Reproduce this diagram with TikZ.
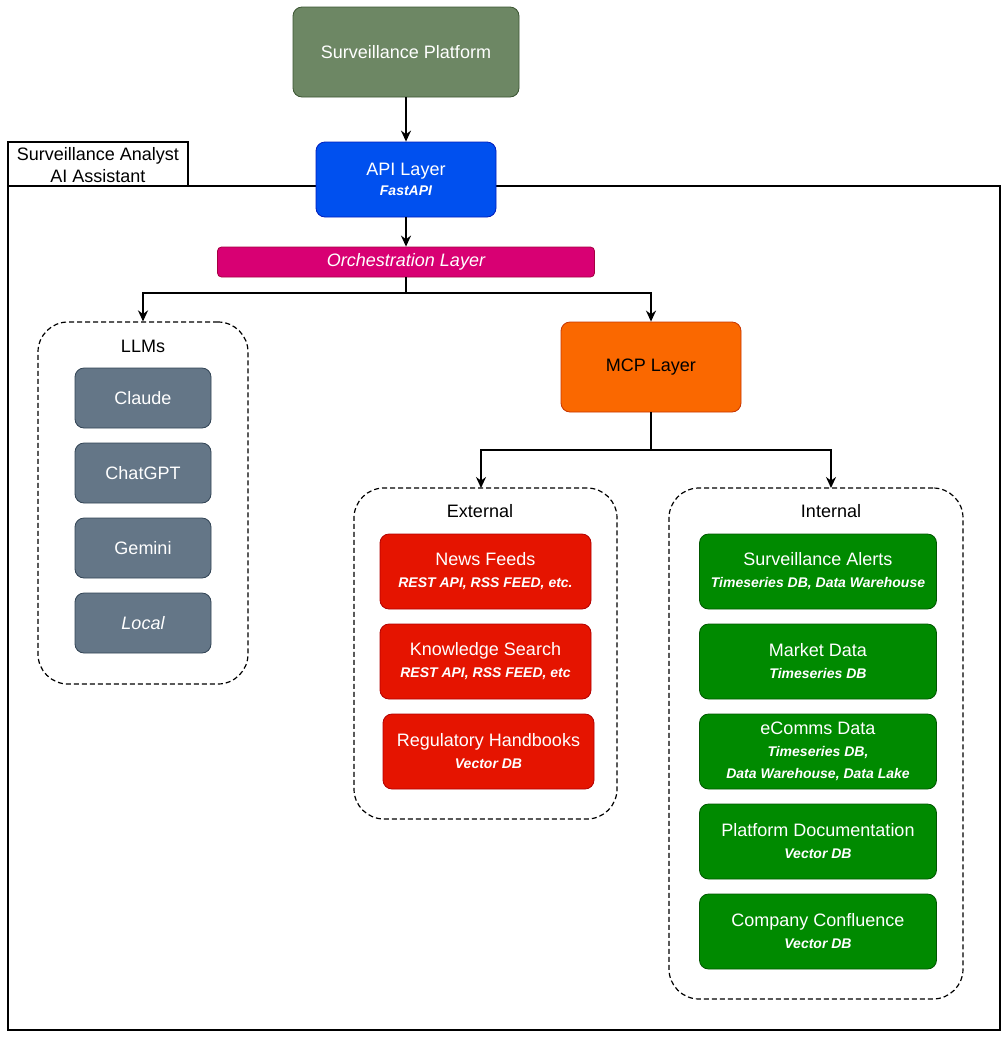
\documentclass[tikz,border=0pt]{standalone}
\usepackage{fontspec}
\setmainfont{Liberation Sans}
\usetikzlibrary{arrows.meta}
\definecolor{spfill}{HTML}{6D8764}\definecolor{spline}{HTML}{3A5431}
\definecolor{apifill}{HTML}{0050EF}\definecolor{apiline}{HTML}{001DBC}
\definecolor{orfill}{HTML}{D80073}\definecolor{orline}{HTML}{A50040}
\definecolor{mcpfill}{HTML}{FA6800}\definecolor{mcpline}{HTML}{C73500}
\definecolor{llmfill}{HTML}{647687}\definecolor{llmline}{HTML}{314354}
\definecolor{extfill}{HTML}{E51400}\definecolor{extline}{HTML}{B20000}
\definecolor{intfill}{HTML}{008A00}\definecolor{intline}{HTML}{005700}
\newcommand{\subtxt}[1]{{\fontsize{14}{22}\selectfont\bfseries\itshape #1}}
\begin{document}
\begin{tikzpicture}[x=1pt,y=-1pt,
  box/.style={draw, rounded corners=9pt, line width=0.8pt, align=center, text=white,
    font=\fontsize{18}{22}\selectfont, inner sep=0pt},
  sp/.style={box, fill=spfill, draw=spline, minimum width=226pt, minimum height=90pt},
  api/.style={box, fill=apifill, draw=apiline, minimum width=180pt, minimum height=75pt},
  orch/.style={box, rounded corners=4pt, fill=orfill, draw=orline, minimum width=377pt, minimum height=30pt},
  mcp/.style={box, fill=mcpfill, draw=mcpline, text=black, minimum width=180pt, minimum height=90pt},
  llmbox/.style={box, fill=llmfill, draw=llmline, minimum width=136pt, minimum height=60pt},
  extbox/.style={box, fill=extfill, draw=extline, minimum width=211pt, minimum height=75pt},
  intbox/.style={box, fill=intfill, draw=intline, minimum width=237pt, minimum height=75pt},
  cont/.style={draw, dash pattern=on 5pt off 3pt, line width=1.2pt, rounded corners=30pt, inner sep=0pt},
  lbl/.style={font=\fontsize{18}{22}\selectfont, align=center, inner sep=0pt},
  arr/.style={-{Stealth[length=11pt,width=10pt]}, line width=1.8pt}
]
\useasboundingbox (0,0) rectangle (1008,1037);
% outer container
\draw[line width=2pt] (8,186) rectangle (1000,1030);
\draw[line width=2pt] (8,186) -- (8,142) -- (188,142) -- (188,186);
\node[lbl] (title) at (98,165) {Surveillance Analyst\\AI Assistant};

% top
\node[sp] (sp) at (406,52) {Surveillance Platform};
\node[api] (api) at (406,179.5) {API Layer\\[-2pt]\subtxt{FastAPI}};
\node[orch] (orch) at (406,262) {\itshape Orchestration Layer};

\draw[arr] (sp.south) -- (api.north);
\draw[arr] (api.south) -- (orch.north);

% LLMs
\node[cont, minimum width=210pt, minimum height=362pt] (llm) at (143,503) {};
\node[lbl] (llmlbl) at (143,346) {LLMs};
\node[llmbox] (claude) at (143,398) {Claude};
\node[llmbox] (chatgpt) at (143,473) {ChatGPT};
\node[llmbox] (gemini) at (143,548) {Gemini};
\node[llmbox] (local) at (143,623) {\itshape Local};

% MCP
\node[mcp] (mcp) at (651,367) {MCP Layer};

\coordinate (split1) at (406,293);
\draw[arr] (orch.south) -- (split1) -| (llm.north);
\draw[arr] (split1) -| (mcp.north);

% External
\node[cont, minimum width=263pt, minimum height=331pt] (ext) at (485.5,653.5) {};
\node[lbl] (extlbl) at (480,511) {External};
\node[extbox] (news) at (485.5,571.5) {News Feeds\\\subtxt{REST API, RSS FEED, etc.}};
\node[extbox] (know) at (485.5,661.5) {Knowledge Search\\\subtxt{REST API, RSS FEED, etc}};
\node[extbox] (reg) at (488.5,751.5) {Regulatory Handbooks\\\subtxt{Vector DB}};

% Internal
\node[cont, minimum width=294pt, minimum height=511pt] (int) at (816,743.5) {};
\node[lbl] (intlbl) at (831,511) {Internal};
\node[intbox] (alerts) at (818,571.5) {Surveillance Alerts\\\subtxt{Timeseries DB, Data Warehouse}};
\node[intbox] (market) at (818,661.5) {Market Data\\\subtxt{Timeseries DB}};
\node[intbox] (ecomms) at (818,751.5) {eComms Data\\\subtxt{Timeseries DB,}\\\subtxt{Data Warehouse, Data Lake}};
\node[intbox] (doc) at (818,841.5) {Platform Documentation\\\subtxt{Vector DB}};
\node[intbox] (conf) at (818,931.5) {Company Confluence\\\subtxt{Vector DB}};

\coordinate (split2) at (651,450);
\coordinate (extin) at (481,488);
\coordinate (intin) at (831,488);
\draw[arr] (mcp.south) -- (split2) -| (extin);
\draw[arr] (split2) -| (intin);
\end{tikzpicture}
\end{document}
